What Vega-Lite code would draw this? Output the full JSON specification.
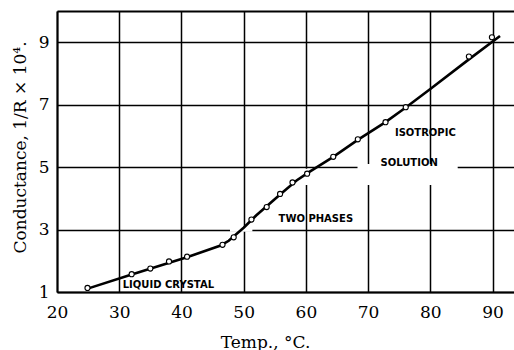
{
  "$schema": "https://vega.github.io/schema/vega-lite/v6.json",
  "width": 457,
  "height": 281,
  "autosize": {"type": "none"},
  "padding": {"left": 57, "top": 11, "right": 0, "bottom": 58},
  "background": "white",
  "config": {"view": {"stroke": null}},
  "datasets": {
    "points": [
      {"t": 24.9, "c": 1.13}, {"t": 32.0, "c": 1.57}, {"t": 35.0, "c": 1.75},
      {"t": 38.0, "c": 1.98}, {"t": 40.9, "c": 2.13}, {"t": 46.6, "c": 2.51},
      {"t": 48.4, "c": 2.75}, {"t": 51.25, "c": 3.32}, {"t": 53.7, "c": 3.72},
      {"t": 55.85, "c": 4.14}, {"t": 57.85, "c": 4.51}, {"t": 60.2, "c": 4.79},
      {"t": 64.4, "c": 5.33}, {"t": 68.35, "c": 5.89}, {"t": 72.8, "c": 6.44},
      {"t": 76.05, "c": 6.92}, {"t": 86.2, "c": 8.54}, {"t": 89.9, "c": 9.16}
    ],
    "curve": [
      {"t": 24.8, "c": 1.1}, {"t": 32.0, "c": 1.56}, {"t": 41.0, "c": 2.12},
      {"t": 46.3, "c": 2.49}, {"t": 47.6, "c": 2.64}, {"t": 50.0, "c": 3.06},
      {"t": 52.0, "c": 3.45}, {"t": 56.0, "c": 4.15}, {"t": 58.5, "c": 4.57},
      {"t": 60.5, "c": 4.84}, {"t": 64.4, "c": 5.33}, {"t": 68.4, "c": 5.88},
      {"t": 72.8, "c": 6.44}, {"t": 76.0, "c": 6.9}, {"t": 80.0, "c": 7.5},
      {"t": 86.2, "c": 8.45}, {"t": 91.2, "c": 9.2}
    ],
    "masks": [
      {"t": 59.0, "t2": 84.4, "c": 4.43, "c2": 4.95},
      {"t": 68.3, "t2": 84.4, "c": 4.9, "c2": 5.1},
      {"t": 47.8, "t2": 51.4, "c": 2.93, "c2": 3.07}
    ],
    "labels": [
      {"t": 37.9, "c": 1.21, "label": "LIQUID CRYSTAL"},
      {"t": 61.6, "c": 3.33, "label": "TWO PHASES"},
      {"t": 79.2, "c": 6.1, "label": "ISOTROPIC"},
      {"t": 76.6, "c": 5.13, "label": "SOLUTION"}
    ]
  },
  "encoding": {
    "x": {
      "field": "t", "type": "quantitative",
      "scale": {"domain": [20, 93.45], "nice": false, "zero": false},
      "axis": {
        "values": [20, 30, 40, 50, 60, 70, 80, 90],
        "title": "Temp., °C.",
        "grid": true, "gridColor": "black", "gridWidth": 1.5, "gridOpacity": 1,
        "domain": true, "domainColor": "black", "domainWidth": 2,
        "ticks": false,
        "labelFont": "DejaVu Serif", "labelFontSize": 17, "labelColor": "black",
        "labelPadding": 12, "labelDx": 8, "labelFlush": false,
        "titleFont": "DejaVu Serif", "titleFontSize": 17, "titleFontWeight": "normal", "titleColor": "black",
        "titleX": 208, "titleY": 50, "titleBaseline": "middle", "titleAlign": "center"
      }
    },
    "y": {
      "field": "c", "type": "quantitative",
      "scale": {"domain": [1, 10], "nice": false, "zero": false},
      "axis": {
        "values": [1, 3, 5, 7, 9, 10],
        "labelExpr": "datum.value == 10 ? '' : datum.label",
        "title": "Conductance, 1/R × 10⁴.",
        "grid": true, "gridColor": "black", "gridOpacity": 1,
        "gridWidth": {"condition": {"test": "datum.value == 10", "value": 2}, "value": 1.5},
        "domain": true, "domainColor": "black", "domainWidth": 2,
        "ticks": false,
        "labelFont": "DejaVu Serif", "labelFontSize": 17, "labelColor": "black",
        "labelPadding": 8, "labelFlush": false, "labelBaseline": "middle", "labelDy": 2,
        "titleFont": "DejaVu Serif", "titleFontSize": 17, "titleFontWeight": "normal", "titleColor": "black",
        "titleX": -37, "titleY": 136, "titleAngle": -90, "titleBaseline": "middle", "titleAlign": "center"
      }
    }
  },
  "layer": [
    {
      "data": {"name": "masks"},
      "mark": {"type": "rect", "color": "white", "opacity": 1},
      "encoding": {"x2": {"field": "t2"}, "y2": {"field": "c2"}}
    },
    {
      "data": {"name": "curve"},
      "mark": {"type": "line", "color": "black", "strokeWidth": 2.6, "interpolate": "linear"}
    },
    {
      "data": {"name": "points"},
      "mark": {"type": "point", "shape": "circle", "filled": true, "fill": "white", "stroke": "black", "strokeWidth": 1.1, "size": 26, "opacity": 1}
    },
    {
      "data": {"name": "labels"},
      "mark": {"type": "text", "font": "DejaVu Sans", "fontWeight": "bold", "fontSize": 10, "color": "black", "align": "center", "baseline": "middle"},
      "encoding": {"text": {"field": "label"}}
    }
  ]
}
